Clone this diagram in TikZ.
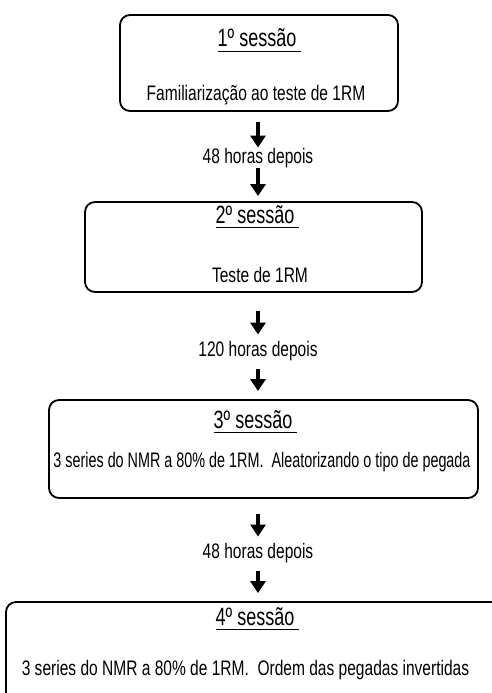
\documentclass[tikz,border=0pt]{standalone}
\usepackage{fontspec}
\newfontfamily\sessfont[FakeStretch=0.74]{Liberation Sans}
\newfontfamily\headfont[FakeStretch=0.72]{Liberation Sans}
\usetikzlibrary{arrows.meta}
\usetikzlibrary{positioning}
\newcommand{\sesstitle}[1]{\underline{#1\ \vphantom{,}}}

\begin{document}
\begin{tikzpicture}[x=1pt, y=-1pt,
		session/.style={draw, rounded corners=10pt, line width=1.8pt, inner sep=0pt},
		heading/.style={anchor=base, inner sep=0pt, font=\headfont\fontsize{25}{29}\selectfont},
		body/.style={anchor=base, inner sep=0pt, font=\sessfont\fontsize{21}{25}\selectfont},
		delay/.style={anchor=base, inner sep=0pt, font=\sessfont\fontsize{21}{25}\selectfont},
		down/.style={-{Triangle[width=15pt, length=12pt]}, line width=4pt}]
				\useasboundingbox (0,0) rectangle (491,693);
				
				% sessions
				\node[session, minimum width=278pt, minimum height=96pt](s1) at (259, 63) {};
				\node[heading](t1) at (259.5, 47) {\sesstitle{1º sessão}};
				\node[body](b1) at (256, 100) {Familiarização ao teste de 1RM};
				
				\node[session, minimum width=337pt, minimum height=90pt](s2) at (253.5, 247) {};
				\node[heading](t2) at (257.5, 223) {\sesstitle{2º sessão}};
				\node[body](b2) at (260, 282) {Teste de 1RM};
				
				\node[session, minimum width=429pt, minimum height=98pt](s3) at (263.5, 449) {};
				\node[heading](t3) at (255.5, 428) {\sesstitle{3º sessão}};
				\node[body](b3) at (262, 467) {\scalebox{0.925}[1]{3 series do NMR a 80\% de 1RM.~ Aleatorizando o tipo de pegada}};
				
				\node[session, minimum width=509pt, minimum height=118pt](s4) at (260.5, 661) {};
				\node[heading](t4) at (257.5, 625) {\sesstitle{4º sessão}};
				\node[body](b4) at (245.5, 675) {3 series do NMR a 80\% de 1RM.~ Ordem das pegadas invertidas};
				
				% delays
				\node[delay](d1) at (258, 163) {48 horas depois};
				\node[delay](d2) at (258, 356) {120 horas depois};
				\node[delay](d3) at (258, 558) {48 horas depois};
				
				\draw[down, shorten <=10pt] (d1.north |- s1.south) -- (d1.north);
				\draw[down, shorten >=5pt] (d1.south) -- (d1.south |- s2.north);
				\draw[down, shorten <=18pt, shorten >=6pt] (d2.north |- s2.south) -- (d2.north);
				\draw[down, shorten <=8pt, shorten >=8pt] (d2.south) -- (d2.south |- s3.north);
				\draw[down, shorten <=15pt, shorten >=6pt] (d3.north |- s3.south) -- (d3.north);
				\draw[down, shorten <=8pt, shorten >=8pt] (d3.south) -- (d3.south |- s4.north);
			\end{tikzpicture}
\end{document}
